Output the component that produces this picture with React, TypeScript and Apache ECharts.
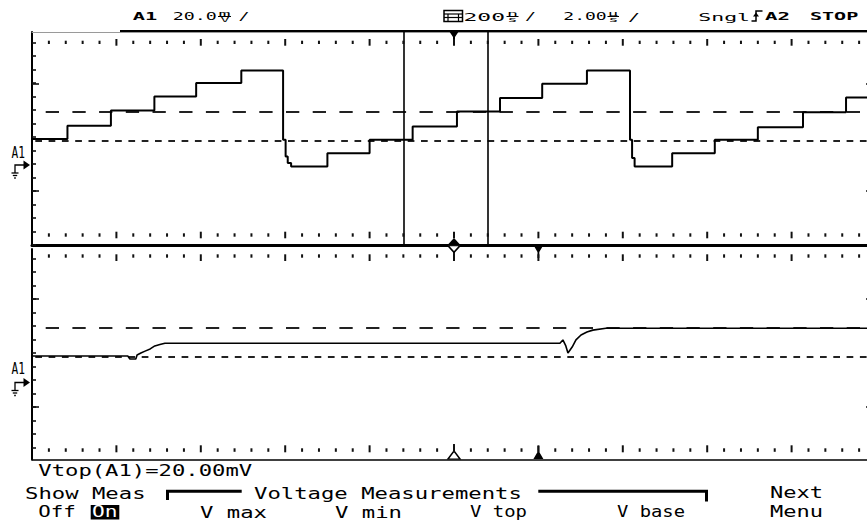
import React, { useEffect, useRef } from "react";
import * as echarts from "echarts";

// Time axis: 2.00 µs/div, 10 divisions -> 0..20 µs
const T_MIN = 0;
const T_MAX = 20;

// Upper trace (A1, staircase), level starts at each time (µs) -> mV
const TOP_T = [0, 0.84, 1.87, 2.9, 3.89, 4.96, 5.95, 6.01, 6.06, 6.14, 7.0, 8.0, 9.02, 10.07, 11.09, 12.09, 13.15, 14.17, 14.22, 14.28, 15.17, 16.18, 17.2, 18.27, 19.29, 19.8];
const TOP_MV = [10.0, 14.8, 20.4, 25.6, 30.5, 35.1, 9.7, 3.6, 1.2, -0.1, 4.8, 9.7, 14.6, 20.1, 25.0, 30.2, 35.1, 9.7, 3.0, -0.1, 4.8, 9.7, 14.3, 19.8, 25.2, 25.2];

// Lower trace (A1, settled)
const BOT_T = [0, 2.27, 2.32, 2.46, 2.49, 2.58, 2.68, 2.8, 2.91, 3.03, 3.15, 12.51, 12.58, 12.65, 12.7, 12.8, 12.89, 13.01, 13.15, 13.29, 13.6, 19.8];
const BOT_MV = [9.6, 9.6, 8.5, 8.5, 10.0, 10.7, 11.4, 12.2, 13.3, 13.8, 14.3, 14.3, 15.5, 13.3, 10.7, 12.9, 15.5, 17.3, 18.4, 19.1, 19.8, 19.8];

// Measurement levels (V top, V base) in mV
const MEAS_LEVELS = [20.0, 9.5];
// Vertical cursors (µs)
const CURSOR_T = [8.8, 10.79];
// Trigger / marker positions (µs)
const MARK_T = [10, 12];

// Header and soft-key texts: [text, x, centerY, width, fontSize, bold]
const HEADER_TEXTS: [string, number, number, number, number, boolean][] = [
  ["A1", 132.7, 16.5, 24.5, 11, true],
  ["20.0", 172.7, 16.8, 44, 11, false],
  ["/", 238.5, 16.8, 11, 11, false],
  ["200", 463.5, 16.8, 41.5, 11, false],
  ["/", 525, 16.8, 11, 11, false],
  ["2.00", 563.3, 16.8, 43.4, 11, false],
  ["/", 628, 16.8, 12, 11, false],
  ["Sngl", 698.3, 16.8, 51.7, 11, false],
  ["A2", 765, 16.5, 25, 11, true],
  ["STOP", 810, 16.5, 48.3, 11, true],
];
const UNIT_TEXTS: [string, number, number, number, number, boolean][] = [
  ["m", 218.5, 13.2, 12, 7, false],
  ["V", 220.5, 19.6, 9, 7, false],
  ["n", 507, 13.2, 11, 7, false],
  ["s", 507.5, 19.6, 10, 7, false],
  ["µ", 608, 13.2, 10, 7, false],
  ["s", 608.5, 19.6, 10, 7, false],
];
const FOOTER_TEXTS: [string, number, number, number][] = [
  ["Vtop(A1)=20.00mV", 38.3, 470.8, 214],
  ["Show Meas", 25, 493.3, 120.5],
  ["Voltage Measurements", 254, 493.3, 268],
  ["Next", 770, 493.3, 53],
  ["Off", 38.3, 512, 37.5],
  ["V max", 200, 512, 67],
  ["V min", 335, 512, 67],
  ["V top", 470, 512, 57],
  ["V base", 617, 512, 68],
  ["Menu", 770, 512, 53],
];
const CHANNEL_LABELS: [string, number, number, number][] = [
  ["A1", 11.5, 152.5, 13.5],
  ["A1", 11.5, 369.2, 13.5],
];

const MONO = '"DejaVu Sans Mono", monospace';

let measureCtx: CanvasRenderingContext2D | null = null;
function measure(text: string, size: number, bold: boolean) {
  if (!measureCtx) measureCtx = document.createElement("canvas").getContext("2d");
  if (!measureCtx) return text.length * size * 0.6;
  measureCtx.font = `${bold ? "bold " : ""}${size}px ${MONO}`;
  return measureCtx.measureText(text).width || text.length * size * 0.6;
}

function fitText(text: string, x: number, cy: number, w: number, size: number, bold: boolean, fill = "#000") {
  const mw = measure(text, size, bold);
  return {
    type: "text",
    x,
    y: cy,
    scaleX: w / mw,
    z: 100,
    silent: true,
    style: {
      text,
      fontSize: size,
      fontFamily: MONO,
      fontWeight: bold ? "bold" : "normal",
      fill,
      align: "left",
      verticalAlign: "middle",
      textAlign: "left",
      textVerticalAlign: "middle",
    },
  };
}

function groundMarker(cy: number) {
  const s = { stroke: "#000", lineWidth: 1.3, fill: null };
  return [
    { type: "polyline", z: 100, shape: { points: [[15, cy + 8], [15, cy], [25, cy]] }, style: s },
    { type: "polygon", z: 100, shape: { points: [[23.5, cy - 4.5], [30, cy], [23.5, cy + 4.5]] }, style: { fill: "#000" } },
    { type: "line", z: 100, shape: { x1: 11.5, y1: cy + 8, x2: 18.5, y2: cy + 8 }, style: s },
    { type: "line", z: 100, shape: { x1: 12.8, y1: cy + 10.5, x2: 17.2, y2: cy + 10.5 }, style: s },
    { type: "line", z: 100, shape: { x1: 14.2, y1: cy + 13, x2: 15.8, y2: cy + 13 }, style: s },
  ];
}

// Graticule dotted rows (screen chrome): [minorTop, minorBottom, majorTop, majorBottom]
const GRAT_LEFT = 32;
const DIV_PX = 84.4;
const GRAT_ROWS: [number, number, number, number][] = [
  [40.7, 44, 39, 45.7],
  [233.3, 236.7, 231.7, 238.3],
  [254.3, 257.7, 254.3, 261],
  [448.3, 451.8, 445.3, 452.3],
];
function graticuleRows() {
  const out: any[] = [];
  const step = DIV_PX / 5;
  GRAT_ROWS.forEach(([a, b, c, d]) => {
    for (let k = 1; k <= 50; k++) {
      const x = GRAT_LEFT + k * step;
      if (x > 868) break;
      const major = k % 5 === 0;
      out.push({
        type: "line",
        z: 90,
        silent: true,
        shape: { x1: x, y1: major ? c : a, x2: x, y2: major ? d : b },
        style: { stroke: "#111", lineWidth: 2 },
      });
    }
  });
  return out;
}

function buildOption() {
  const OB = { outerBoundsMode: "none", containLabel: false };
  const hiddenX = (gi: number) => ({ gridIndex: gi, type: "value", show: false, min: 0, max: 1 });
  const noStuff = { axisLabel: { show: false }, splitLine: { show: false } };
  const line = (color: string, width: number) => ({ show: true, onZero: false, lineStyle: { color, width } });

  const grids: any[] = [
    { left: 32, top: 32, width: 844, height: 213.5, ...OB },
    { left: 32, top: 249, width: 844, height: 210.5, ...OB },
  ];
  const xAxes: any[] = [
    { gridIndex: 0, type: "value", min: T_MIN, max: T_MAX, position: "bottom", axisLine: line("#000", 3), axisTick: { show: false }, ...noStuff },
    { gridIndex: 0, type: "value", min: T_MIN, max: T_MAX, position: "top", axisLine: line("#9a9a9a", 1), axisTick: { show: false }, ...noStuff },
    { gridIndex: 1, type: "value", min: T_MIN, max: T_MAX, position: "bottom", axisLine: line("#000", 1.5), axisTick: { show: false }, ...noStuff },
  ];
  const yAxes: any[] = [
    { gridIndex: 0, type: "value", min: -29.07, max: 49.22, position: "left", axisLine: line("#000", 2), axisTick: { show: false }, ...noStuff },
    { gridIndex: 1, type: "value", min: -28.35, max: 48.85, position: "left", axisLine: line("#000", 2), axisTick: { show: false }, ...noStuff },
  ];

  // left short ticks
  let gi = grids.length;
  grids.push({ left: 32, top: 42.3, width: 844, height: 405, ...OB });
  xAxes.push(hiddenX(gi));
  yAxes.push({
    gridIndex: gi, type: "value", min: 0, max: 30, interval: 1, inverse: true, position: "left",
    axisLine: { show: false, onZero: false },
    axisTick: { show: true, inside: true, length: 4, lineStyle: { color: "#111", width: 1.6 } },
    ...noStuff,
  });
  // long ticks left & right
  gi = grids.length;
  grids.push({ left: 32, top: 83.3, width: 844, height: 323.4, ...OB });
  xAxes.push(hiddenX(gi));
  yAxes.push({
    gridIndex: gi, type: "value", min: 0, max: 3, interval: 1, inverse: true, position: "left",
    axisLine: { show: false, onZero: false },
    axisTick: { show: true, inside: true, length: 7, lineStyle: { color: "#111", width: 1.6 } },
    ...noStuff,
  });
  yAxes.push({
    gridIndex: gi, type: "value", min: 0, max: 3, interval: 1, inverse: true, position: "right",
    axisLine: { show: false, onZero: false },
    axisTick: { show: true, inside: true, length: 10, lineStyle: { color: "#111", width: 1.6 } },
    ...noStuff,
  });

  const longDash = { color: "#222", width: 2, type: [13.3, 13.4], dashOffset: 13.3 };
  const shortDash = { color: "#222", width: 2, type: [6.7, 6.6], dashOffset: 10.3 };
  const measLines = [
    { yAxis: MEAS_LEVELS[0], lineStyle: longDash },
    { yAxis: MEAS_LEVELS[1], lineStyle: shortDash },
  ];

  const topData = TOP_T.map((t, i) => [t, TOP_MV[i]]);
  const botData = BOT_T.map((t, i) => [t, BOT_MV[i]]);

  const black = { color: "#000" };
  const open = { color: "#fff", borderColor: "#000", borderWidth: 1.4 };

  const series: any[] = [
    {
      type: "line",
      xAxisIndex: 0,
      yAxisIndex: 0,
      data: topData,
      step: "end",
      showSymbol: false,
      symbol: "none",
      lineStyle: { color: "#000", width: 2 },
      z: 5,
      markLine: {
        silent: true,
        symbol: ["none", "none"],
        label: { show: false },
        data: [
          ...measLines,
          ...CURSOR_T.map((t) => ({ xAxis: t, lineStyle: { color: "#000", width: 1.6, type: "solid" } })),
        ],
      },
      markPoint: {
        silent: true,
        label: { show: false },
        data: [
          { coord: [MARK_T[0], 47.21], symbol: "path://M0,0L10,0L6,6L6,13L4,13L4,6Z", symbolSize: [10, 13], itemStyle: black },
          { coord: [MARK_T[0], -27.6], symbol: "path://M0,7L6.5,0L13,7Z", symbolSize: [13, 7], itemStyle: black },
        ],
      },
    },
    {
      type: "line",
      xAxisIndex: 2,
      yAxisIndex: 1,
      data: botData,
      showSymbol: false,
      symbol: "none",
      lineStyle: { color: "#000", width: 1.6 },
      z: 5,
      markLine: {
        silent: true,
        symbol: ["none", "none"],
        label: { show: false },
        data: measLines,
      },
      markPoint: {
        silent: true,
        label: { show: false },
        data: [
          { coord: [MARK_T[0], 48.85], symbol: "path://M0,0L12,0L6,6.5Z", symbolSize: [12, 6.5], itemStyle: open },
          { coord: [MARK_T[0], 46.65], symbol: "rect", symbolSize: [1.8, 6], itemStyle: black },
          { coord: [MARK_T[1], 47.93], symbol: "path://M0,0L10,0L5.9,7L5.9,13L4.1,13L4.1,7Z", symbolSize: [10, 13], itemStyle: black },
          { coord: [MARK_T[0], -26.7], symbol: "path://M6,0L12,8L0,8Z", symbolSize: [12, 8], itemStyle: open },
          { coord: [MARK_T[0], -23.95], symbol: "rect", symbolSize: [1.8, 7], itemStyle: black },
          { coord: [MARK_T[1], -25.78], symbol: "path://M4.1,0L5.9,0L5.9,6L10,13L0,13L4.1,6Z", symbolSize: [10, 13], itemStyle: black },
        ],
      },
    },
  ];

  const stroke = (w: number) => ({ stroke: "#000", lineWidth: w, fill: null });
  const graphics: any[] = [
    ...graticuleRows(),
    // header underline
    { type: "rect", z: 100, shape: { x: 120, y: 30, width: 747, height: 2 }, style: { fill: "#000" } },
    // zoom icon
    { type: "rect", z: 100, shape: { x: 444, y: 10.5, width: 18.5, height: 11 }, style: stroke(1.5) },
    { type: "line", z: 100, shape: { x1: 444, y1: 14, x2: 462.5, y2: 14 }, style: stroke(1.2) },
    { type: "line", z: 100, shape: { x1: 444, y1: 17.5, x2: 462.5, y2: 17.5 }, style: stroke(1.2) },
    { type: "line", z: 100, shape: { x1: 448, y1: 14, x2: 448, y2: 21.5 }, style: stroke(1.2) },
    { type: "line", z: 100, shape: { x1: 458.5, y1: 14, x2: 458.5, y2: 21.5 }, style: stroke(1.2) },
    // trigger (rising edge) icon
    { type: "polyline", z: 100, shape: { points: [[751.5, 21], [756, 21], [756, 11], [762.5, 11]] }, style: stroke(1.5) },
    { type: "polygon", z: 100, shape: { points: [[753, 16.5], [756, 12.5], [759, 16.5]] }, style: { fill: "#000" } },
    // unit underlines in stacked glyphs
    { type: "line", z: 100, shape: { x1: 218, y1: 16.5, x2: 231, y2: 16.5 }, style: stroke(1) },
    { type: "line", z: 100, shape: { x1: 506.5, y1: 16.5, x2: 518.5, y2: 16.5 }, style: stroke(1) },
    { type: "line", z: 100, shape: { x1: 607.5, y1: 16.5, x2: 619, y2: 16.5 }, style: stroke(1) },
    // soft-key brackets
    { type: "polyline", z: 100, shape: { points: [[167.5, 500], [167.5, 491.3], [241.7, 491.3]] }, style: stroke(3) },
    { type: "polyline", z: 100, shape: { points: [[538.3, 491.3], [706.5, 491.3], [706.5, 501.5]] }, style: stroke(3) },
    // "On" highlight
    { type: "rect", z: 100, shape: { x: 90.7, y: 505, width: 28.6, height: 14.5 }, style: { fill: "#000" } },
    ...groundMarker(165),
    ...groundMarker(382.5),
  ];
  HEADER_TEXTS.forEach(([t, x, cy, w, s, b]) => graphics.push(fitText(t, x, cy, w, s, b)));
  UNIT_TEXTS.forEach(([t, x, cy, w, s, b]) => graphics.push(fitText(t, x, cy, w, s, b)));
  FOOTER_TEXTS.forEach(([t, x, cy, w]) => graphics.push(fitText(t, x, cy, w, 15, false)));
  graphics.push(fitText("On", 92, 512, 25.5, 15, false, "#fff"));
  CHANNEL_LABELS.forEach(([t, x, cy, w]) => graphics.push(fitText(t, x, cy, w, 15, false)));

  return {
    animation: false,
    backgroundColor: "#fff",
    grid: grids,
    xAxis: xAxes,
    yAxis: yAxes,
    series,
    graphic: { elements: graphics },
  };
}

export default function App() {
  const ref = useRef<HTMLDivElement>(null);
  useEffect(() => {
    if (!ref.current) return;
    const chart = echarts.init(ref.current, null, { renderer: "svg" });
    chart.setOption(buildOption() as any);
    return () => chart.dispose();
  }, []);
  return (
    <div
      ref={ref}
      style={{ position: "fixed", left: 0, top: 0, width: 867, height: 520, background: "#fff" }}
    />
  );
}
